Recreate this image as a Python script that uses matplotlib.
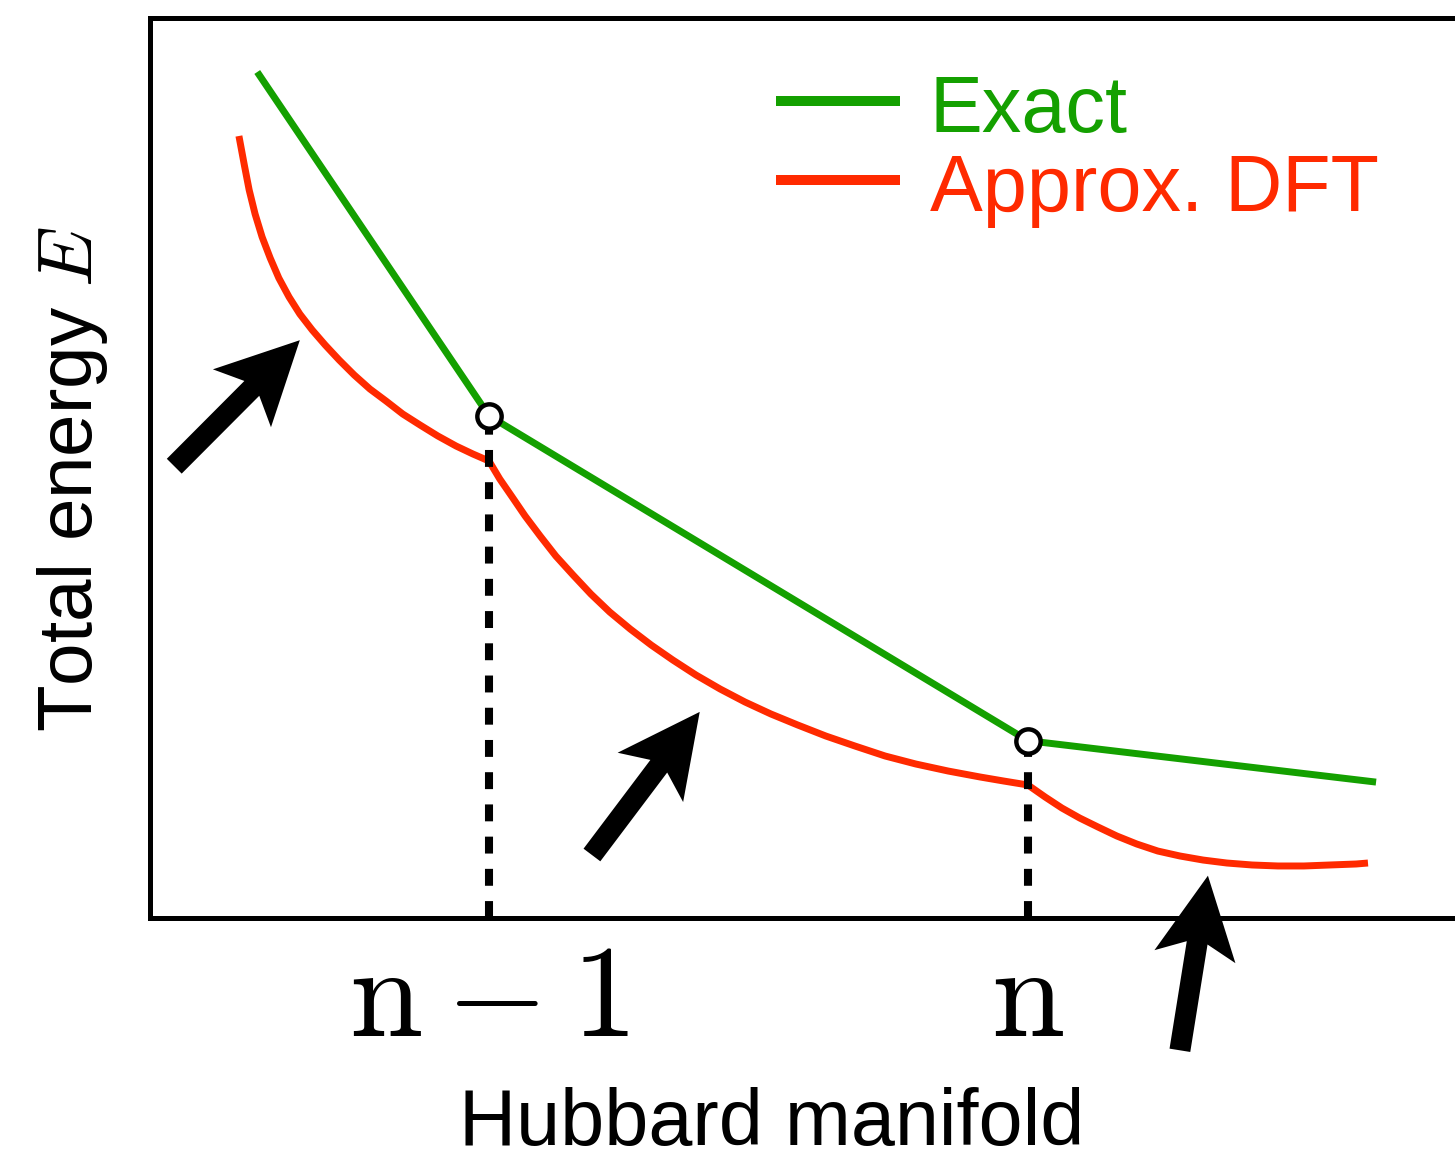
import numpy as np
import matplotlib
matplotlib.use("Agg")
import matplotlib.pyplot as plt
from matplotlib.patches import Polygon
from matplotlib.lines import Line2D

plt.rcParams['font.family'] = ['Liberation Sans', 'DejaVu Sans']
plt.rcParams['mathtext.fontset'] = 'cm'

# ---------------- data (x: Hubbard manifold, n-1 -> 1, n -> 2) ----------------
exact_x = [0.570, 1.0, 2.0, 2.646]
exact_y = [9.40, 5.58, 1.97, 1.51]

dft_x = [0.536, 0.546, 0.555, 0.566, 0.579, 0.594, 0.610, 0.629, 0.649, 0.672,
         0.696, 0.722, 0.750, 0.779, 0.809, 0.840, 0.872, 0.905, 0.939, 0.970,
         1.000,
         1.020, 1.043, 1.067, 1.095, 1.124, 1.156, 1.189, 1.224, 1.262, 1.301,
         1.341, 1.384, 1.429, 1.475, 1.523, 1.573, 1.625, 1.679, 1.735, 1.792,
         1.852, 1.911, 1.955, 2.000,
         2.032, 2.063, 2.096, 2.130, 2.165, 2.202, 2.241, 2.282, 2.325, 2.369,
         2.416, 2.464, 2.512, 2.560, 2.609, 2.631]
dft_y = [8.689, 8.367, 8.089, 7.822, 7.567, 7.333, 7.111, 6.900, 6.711, 6.533,
         6.367, 6.200, 6.033, 5.878, 5.744, 5.600, 5.478, 5.356, 5.244, 5.156,
         5.078,
         4.878, 4.678, 4.467, 4.244, 4.022, 3.811, 3.600, 3.400, 3.211, 3.033,
         2.867, 2.700, 2.544, 2.400, 2.267, 2.144, 2.022, 1.911, 1.800, 1.711,
         1.633, 1.567, 1.522, 1.478,
         1.344, 1.222, 1.111, 1.011, 0.911, 0.822, 0.744, 0.689, 0.644, 0.611,
         0.589, 0.578, 0.578, 0.589, 0.600, 0.611]

integer_x = [1.0, 2.0]
integer_y = [5.58, 1.97]
tick_labels = [r'$\mathrm{n}-1$', r'$\mathrm{n}$']

# arrows: (tail_x, tail_y, tip_x, tip_y)
arrows_tail_x = [0.416, 1.191, 2.282]
arrows_tail_y = [5.02, 0.70, -1.47]
arrows_tip_x = [0.649, 1.391, 2.334]
arrows_tip_y = [6.42, 2.29, 0.47]

legend_labels = ['Exact', 'Approx. DFT']
green = '#14a000'
red = '#ff2a00'

# ---------------- figure ----------------
W, H = 1455, 1153
fig = plt.figure(figsize=(W / 100, H / 100), dpi=100)
ax = fig.add_axes([150 / W, (H - 918) / H, 1315 / W, 900 / H])
ax.set_xlim(0.371, 2.811)
ax.set_ylim(0, 10)

for s in ax.spines.values():
    s.set_linewidth(3.6)
    s.set_color('black')

lw = 5.0
ax.plot(exact_x, exact_y, color=green, lw=lw, solid_capstyle='butt',
        solid_joinstyle='miter', zorder=3)
ax.plot(dft_x, dft_y, color=red, lw=lw, solid_capstyle='butt',
        solid_joinstyle='round', zorder=3)

for xv, yv in zip(integer_x, integer_y):
    ax.plot([xv, xv], [0, yv], color='black', lw=5.8, dashes=(2.1, 1.9),
            dash_capstyle='butt', zorder=4)
ax.plot(integer_x, integer_y, 'o', ms=17.5, mfc='white', mec='black', mew=3.2,
        zorder=5)

ax.set_xticks(integer_x)
ax.set_xticklabels(tick_labels, fontsize=95)
ax.tick_params(axis='x', length=0, pad=85)
for lab in ax.get_xticklabels():
    lab.set_va('baseline')
ax.set_yticks([])

ax.set_xlabel('Hubbard manifold', fontsize=57)
ax.xaxis.set_label_coords((772 - 150) / 1315, (918 - 1087) / 900)
ax.set_ylabel(r'Total energy $E$', fontsize=55)
ax.yaxis.set_label_coords((110 - 150) / 1315, (918 - 479) / 900)


# fat notched arrows built from data tail/tip
def add_arrow(x0, y0, x1, y1):
    p0 = ax.transData.transform((x0, y0))
    p1 = ax.transData.transform((x1, y1))
    d = p1 - p0
    L = np.hypot(*d)
    u = d / L
    n = np.array([-u[1], u[0]])
    sw, hw, hl, notch = 10.5, 41.0, 82.0, 68.0
    pts = [p0 + n * sw, p1 - u * notch + n * sw, p1 - u * hl + n * hw, p1,
           p1 - u * hl - n * hw, p1 - u * notch - n * sw, p0 - n * sw]
    poly = Polygon(pts, closed=True, facecolor='black', edgecolor='none',
                   transform=None, clip_on=False, zorder=6)
    fig.add_artist(poly)


fig.canvas.draw()
for a, b, c, d in zip(arrows_tail_x, arrows_tail_y, arrows_tip_x, arrows_tip_y):
    add_arrow(a, b, c, d)

# legend drawn manually
leg_y = [H - 101, H - 180]
for lab, col, yy in zip(legend_labels, [green, red], leg_y):
    fig.add_artist(Line2D([776 / W, 900 / W], [yy / H, yy / H], color=col,
                          lw=7.2, solid_capstyle='butt'))
    fig.text(930 / W, (yy - 31) / H, lab, color=col, fontsize=57,
             va='baseline', ha='left')

fig.savefig('out.png', dpi=100)
